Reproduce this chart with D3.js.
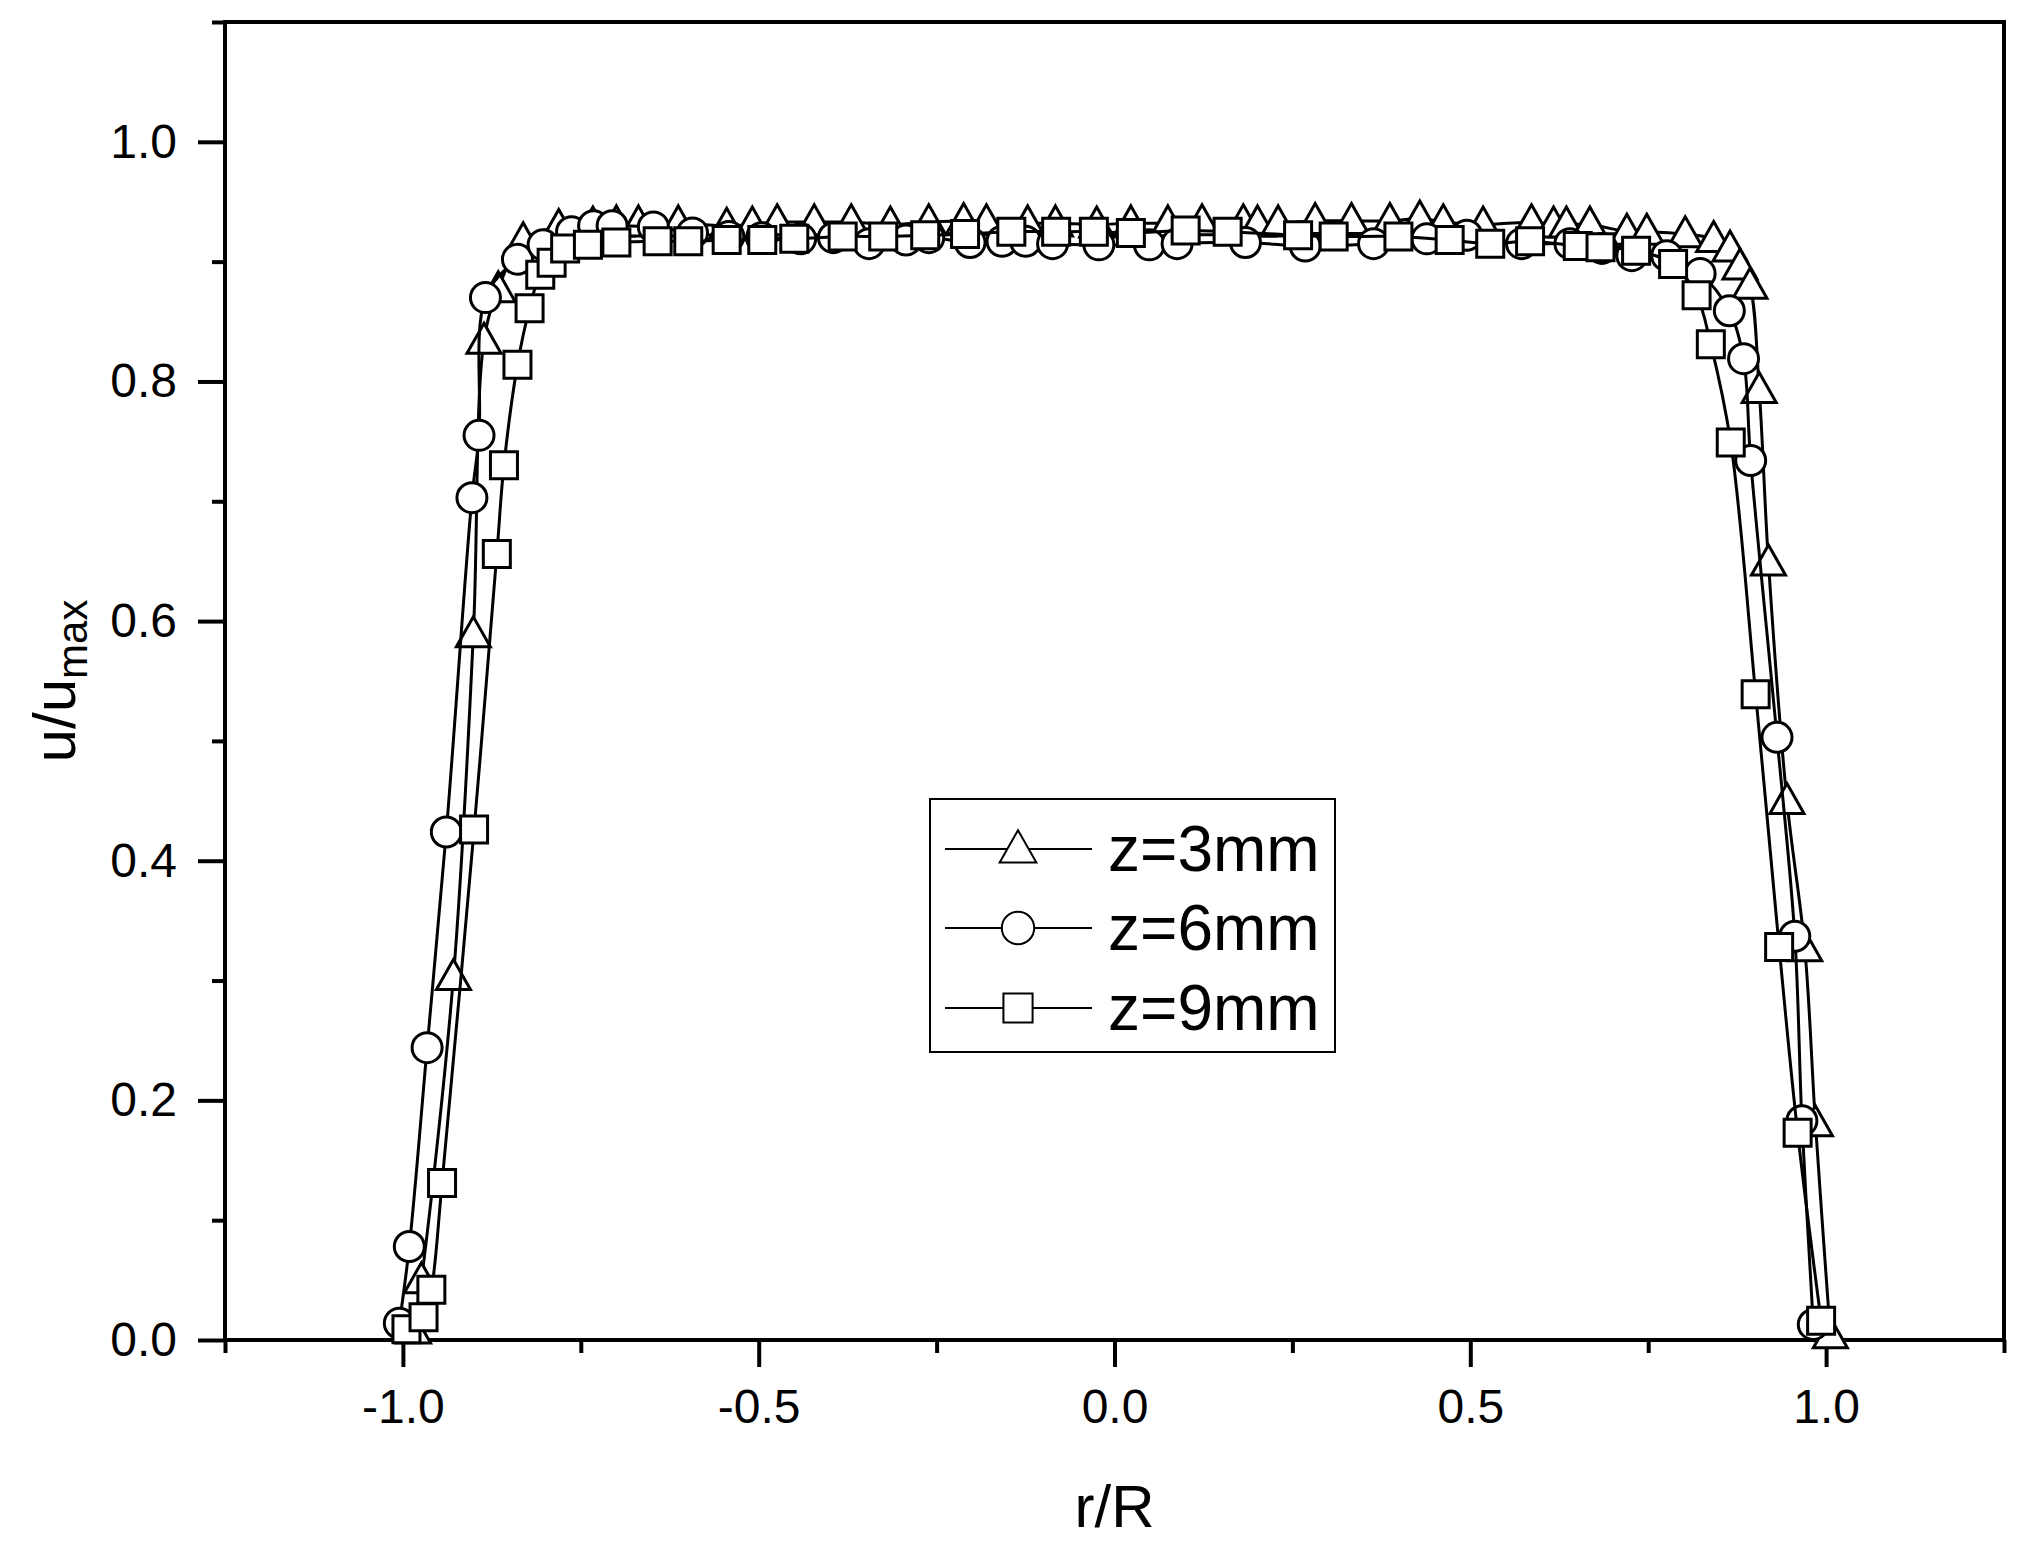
<!DOCTYPE html>
<html>
<head>
<meta charset="utf-8">
<script src="https://cdn.jsdelivr.net/npm/d3@7"></script>
<style>
  body { margin: 0; background: #fff; }
  text { font-family: Arial, "Liberation Sans", sans-serif; fill: #000; }
</style>
</head>
<body>
<svg width="2029" height="1553"></svg>
<script>
// r/R and u/umax, one pair of arrays per series
const r3 = [-0.985, -0.974, -0.929, -0.901, -0.886, -0.866, -0.831, -0.781, -0.733, -0.700, -0.669, -0.613, -0.545, -0.509, -0.474, -0.422, -0.370, -0.315, -0.261, -0.212, -0.180, -0.122, -0.083, -0.025, 0.023, 0.075, 0.123, 0.181, 0.201, 0.230, 0.282, 0.333, 0.387, 0.429, 0.462, 0.518, 0.586, 0.617, 0.635, 0.668, 0.720, 0.748, 0.802, 0.842, 0.865, 0.879, 0.893, 0.906, 0.919, 0.945, 0.970, 0.985, 1.006];
const u3 = [0.008, 0.050, 0.303, 0.589, 0.834, 0.877, 0.918, 0.929, 0.931, 0.932, 0.932, 0.932, 0.930, 0.931, 0.933, 0.933, 0.933, 0.931, 0.933, 0.934, 0.933, 0.932, 0.932, 0.931, 0.932, 0.932, 0.933, 0.933, 0.932, 0.932, 0.934, 0.934, 0.934, 0.936, 0.933, 0.931, 0.933, 0.931, 0.931, 0.931, 0.925, 0.925, 0.923, 0.919, 0.911, 0.896, 0.880, 0.793, 0.649, 0.450, 0.327, 0.181, 0.004];

const r6 = [-1.005, -0.991, -0.966, -0.939, -0.903, -0.893, -0.884, -0.839, -0.803, -0.763, -0.732, -0.706, -0.648, -0.593, -0.542, -0.496, -0.441, -0.395, -0.345, -0.293, -0.261, -0.203, -0.158, -0.125, -0.087, -0.022, 0.049, 0.088, 0.184, 0.268, 0.364, 0.439, 0.495, 0.572, 0.640, 0.685, 0.727, 0.776, 0.823, 0.864, 0.884, 0.894, 0.931, 0.956, 0.966, 0.982];
const u6 = [0.014, 0.078, 0.244, 0.424, 0.703, 0.755, 0.870, 0.902, 0.914, 0.925, 0.930, 0.930, 0.929, 0.924, 0.921, 0.920, 0.919, 0.920, 0.915, 0.918, 0.920, 0.916, 0.917, 0.917, 0.915, 0.914, 0.914, 0.915, 0.916, 0.913, 0.915, 0.919, 0.922, 0.915, 0.915, 0.911, 0.905, 0.905, 0.890, 0.859, 0.819, 0.734, 0.503, 0.337, 0.183, 0.013];

const r9 = [-0.995, -0.971, -0.960, -0.945, -0.900, -0.868, -0.858, -0.839, -0.822, -0.807, -0.791, -0.772, -0.740, -0.700, -0.642, -0.599, -0.545, -0.495, -0.450, -0.382, -0.325, -0.266, -0.210, -0.145, -0.082, -0.029, 0.023, 0.100, 0.159, 0.258, 0.308, 0.399, 0.471, 0.528, 0.584, 0.651, 0.683, 0.733, 0.785, 0.818, 0.838, 0.866, 0.901, 0.934, 0.960, 0.993];
const u9 = [0.009, 0.019, 0.042, 0.131, 0.426, 0.656, 0.730, 0.814, 0.861, 0.889, 0.899, 0.911, 0.914, 0.916, 0.917, 0.917, 0.918, 0.918, 0.919, 0.921, 0.921, 0.922, 0.923, 0.925, 0.925, 0.925, 0.924, 0.926, 0.925, 0.922, 0.921, 0.921, 0.918, 0.915, 0.917, 0.913, 0.912, 0.909, 0.898, 0.872, 0.831, 0.749, 0.539, 0.328, 0.173, 0.016];

const seriesNames = ["z=3mm", "z=6mm", "z=9mm"];
const seriesSymbols = ["triangle", "circle", "square"];

const xMajor = [-1.0, -0.5, 0.0, 0.5, 1.0];
const xMinor = [-1.25, -0.75, -0.25, 0.25, 0.75, 1.25];
const yMajor = [0.0, 0.2, 0.4, 0.6, 0.8, 1.0];
const yMinor = [0.1, 0.3, 0.5, 0.7, 0.9, 1.1];

const svg = d3.select("svg");
const plotLeft = 225;
const plotTop = 22;
const plotRight = 2004;
const plotBottom = 1340;

const x = d3.scaleLinear().domain([-1.25, 1.25]).range([plotLeft, plotRight]);
const y = d3.scaleLinear().domain([0, 1.1]).range([plotBottom, plotTop]);

const series = [
  { name: seriesNames[0], symbol: seriesSymbols[0], pts: r3.map((r, i) => [r, u3[i]]) },
  { name: seriesNames[1], symbol: seriesSymbols[1], pts: r6.map((r, i) => [r, u6[i]]) },
  { name: seriesNames[2], symbol: seriesSymbols[2], pts: r9.map((r, i) => [r, u9[i]]) },
];

// symbol paths centred on 0,0
function symbolPath(type, s) {
  if (type === "triangle") {
    const w = 17 * s, h = 30 * s;
    return `M0,${-h * 0.58}L${w},${h * 0.42}L${-w},${h * 0.42}Z`;
  }
  if (type === "circle") {
    const r = 15 * s;
    return `M${r},0A${r},${r} 0 1,1 ${-r},0A${r},${r} 0 1,1 ${r},0Z`;
  }
  const a = 13.5 * s;
  return `M${-a},${-a}H${a}V${a}H${-a}Z`;
}

// axes (ticks + labels only, frame drawn separately)
const fmt = (d) => d.toFixed(1);

function styleAxis(g) {
  g.select(".domain").remove();
  g.selectAll(".tick line").attr("stroke", "#000").attr("stroke-width", 4);
  g.selectAll(".tick text").style("font-size", "48px").attr("fill", "#000");
}

svg.append("g")
  .attr("transform", `translate(0, ${plotBottom})`)
  .call(d3.axisBottom(x).tickValues(xMinor).tickSize(13).tickFormat(""))
  .call(styleAxis);

svg.append("g")
  .attr("transform", `translate(0, ${plotBottom})`)
  .call(d3.axisBottom(x).tickValues(xMajor).tickSize(27).tickPadding(22).tickFormat(fmt))
  .call(styleAxis);

svg.append("g")
  .attr("transform", `translate(${plotLeft}, 0)`)
  .call(d3.axisLeft(y).tickValues(yMinor).tickSize(13).tickFormat(""))
  .call(styleAxis);

svg.append("g")
  .attr("transform", `translate(${plotLeft}, 0)`)
  .call(d3.axisLeft(y).tickValues(yMajor).tickSize(27).tickPadding(21).tickFormat(fmt))
  .call(styleAxis);

// plot frame
svg.append("rect")
  .attr("x", plotLeft)
  .attr("y", plotTop)
  .attr("width", plotRight - plotLeft)
  .attr("height", plotBottom - plotTop)
  .attr("fill", "none")
  .attr("stroke", "#000")
  .attr("stroke-width", 4);

// series: line first, then its symbols
const line = d3.line()
  .x((d) => x(d[0]))
  .y((d) => y(d[1]))
  .curve(d3.curveCatmullRom.alpha(0.5));

series.forEach((s) => {
  const g = svg.append("g");
  g.append("path")
    .attr("d", line(s.pts))
    .attr("fill", "none")
    .attr("stroke", "#000")
    .attr("stroke-width", 3);
  g.selectAll("path.sym")
    .data(s.pts)
    .enter()
    .append("path")
    .attr("class", "sym")
    .attr("transform", (d) => `translate(${x(d[0])}, ${y(d[1])})`)
    .attr("d", symbolPath(s.symbol, 1))
    .attr("fill", "#fff")
    .attr("stroke", "#000")
    .attr("stroke-width", 3);
});

// axis titles
svg.append("text")
  .attr("x", (plotLeft + plotRight) / 2)
  .attr("y", 1527)
  .attr("text-anchor", "middle")
  .style("font-size", "60px")
  .text("r/R");

const yTitle = svg.append("text")
  .attr("transform", `translate(75, ${(plotTop + plotBottom) / 2}) rotate(-90)`)
  .attr("text-anchor", "middle")
  .style("font-size", "60px");
yTitle.append("tspan").text("u/u");
yTitle.append("tspan").attr("dy", 12).style("font-size", "42px").text("max");

// legend
const legend = svg.append("g");
legend.append("rect")
  .attr("x", 930)
  .attr("y", 799)
  .attr("width", 405)
  .attr("height", 253)
  .attr("fill", "#fff")
  .attr("stroke", "#000")
  .attr("stroke-width", 2);

const rowY = [849, 928, 1008];
series.forEach((s, i) => {
  const row = legend.append("g").attr("transform", `translate(0, ${rowY[i]})`);
  row.append("line").attr("x1", 945).attr("x2", 1092).attr("y1", 0).attr("y2", 0)
    .attr("stroke", "#000").attr("stroke-width", 2);
  row.append("path")
    .attr("transform", "translate(1018, 0)")
    .attr("d", symbolPath(s.symbol, 1.08))
    .attr("fill", "#fff")
    .attr("stroke", "#000")
    .attr("stroke-width", 2);
  row.append("text")
    .attr("x", 1108)
    .attr("y", 22)
    .style("font-size", "64px")
    .text(s.name);
});
</script>
</body>
</html>
